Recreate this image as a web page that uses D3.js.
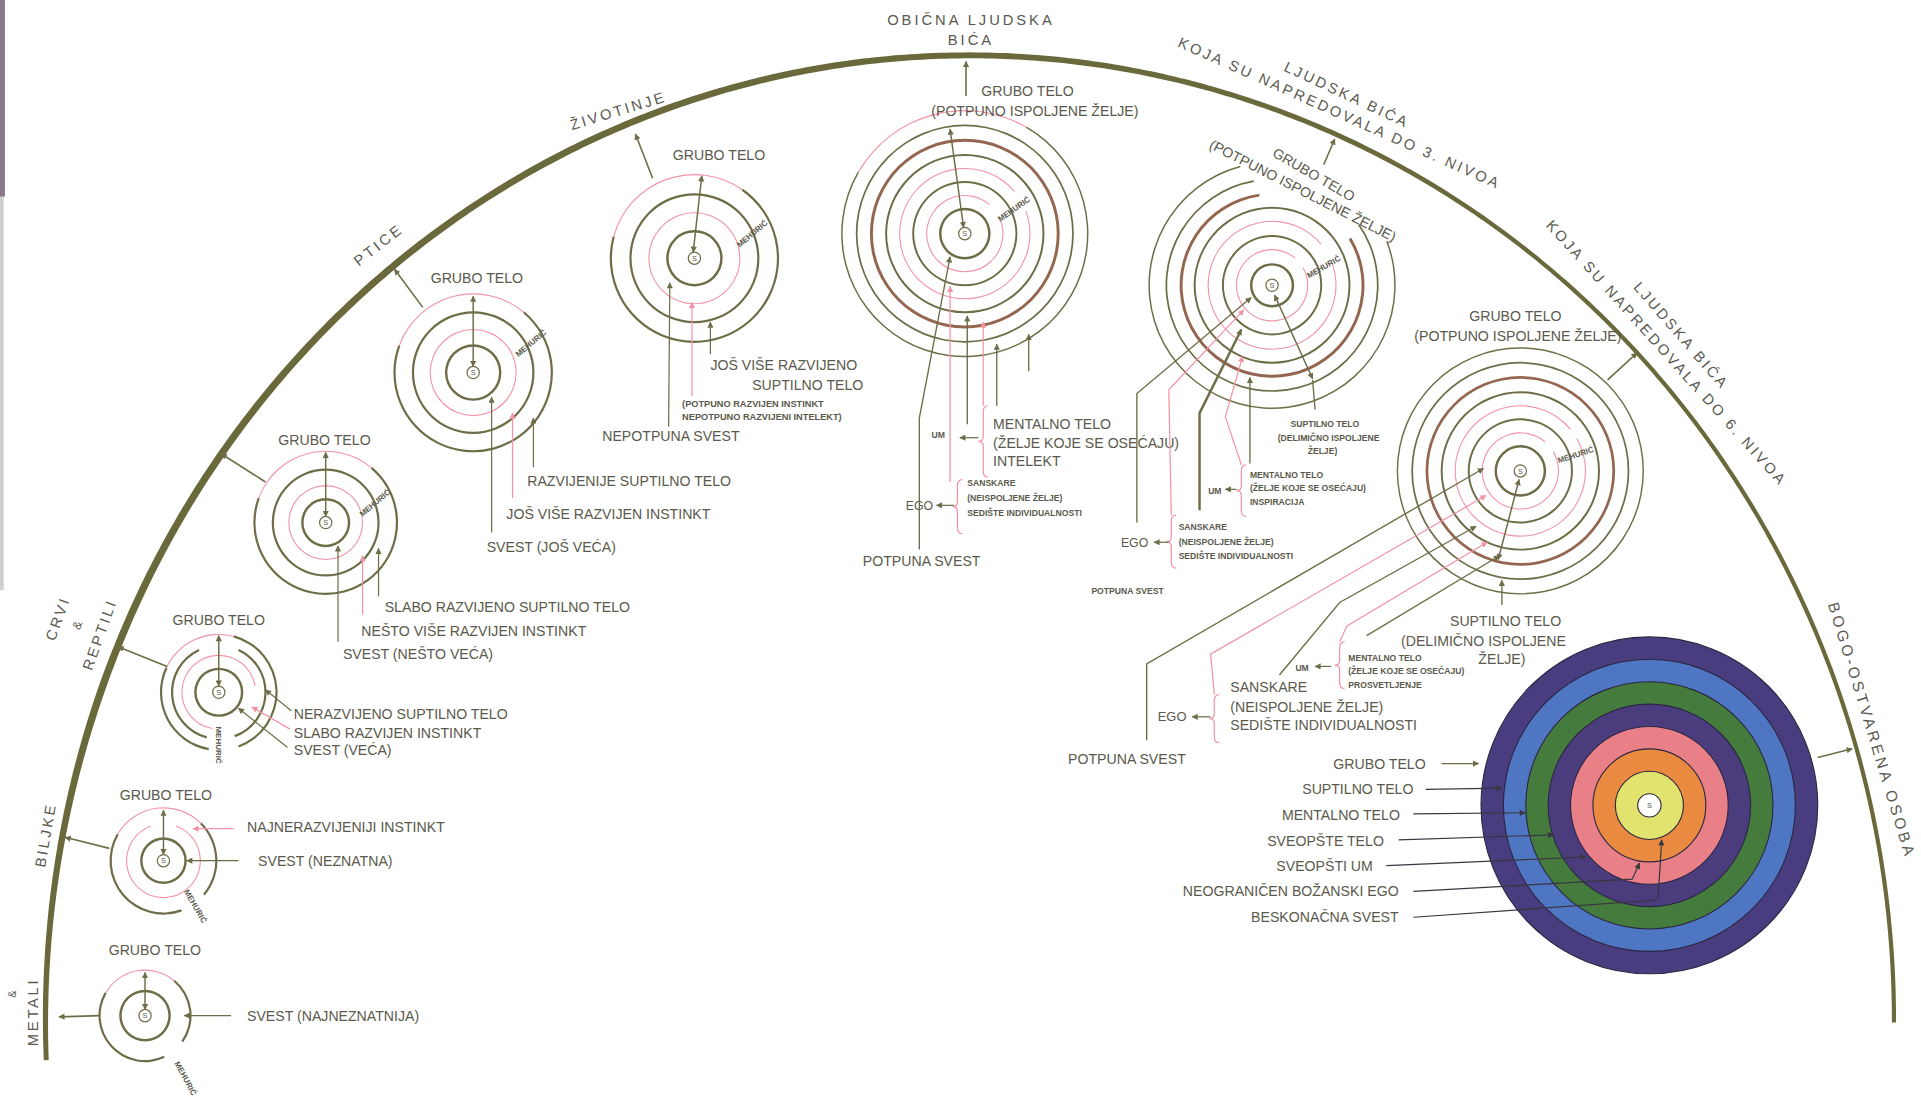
<!DOCTYPE html>
<html>
<head>
<meta charset="utf-8">
<script src="https://cdn.jsdelivr.net/npm/d3@7"></script>
<style>
html, body { margin: 0; padding: 0; background: #fff; overflow: hidden; }
svg { display: block; }
text { font-family: "Liberation Sans", Arial, sans-serif; }
</style>
</head>
<body>
<div id="canvas"></div>
<script>
// ---------- data ----------
const arcTitles = [
  ["&", "METALI"],
  ["BILJKE"],
  ["CRVI", "&", "REPTILI"],
  ["PTICE"],
  ["ŽIVOTINJE"],
  ["OBIČNA LJUDSKA", "BIĆA"],
  ["LJUDSKA BIĆA", "KOJA SU NAPREDOVALA DO 3. NIVOA"],
  ["LJUDSKA BIĆA", "KOJA SU NAPREDOVALA DO 6. NIVOA"],
  ["BOGO-OSTVARENA OSOBA"]
];
const grossBody = ["GRUBO TELO", "(POTPUNO ISPOLJENE ŽELJE)"];
const bubble = "MEHURIĆ";
const soul = "S";
const lowerLabels = [
  ["SVEST (NAJNEZNATNIJA)"],
  ["NAJNERAZVIJENIJI INSTINKT", "SVEST (NEZNATNA)"],
  ["NERAZVIJENO SUPTILNO TELO", "SLABO RAZVIJEN INSTINKT", "SVEST (VEĆA)"],
  ["SLABO RAZVIJENO SUPTILNO TELO", "NEŠTO VIŠE RAZVIJEN INSTINKT", "SVEST (NEŠTO VEĆA)"],
  ["RAZVIJENIJE SUPTILNO TELO", "JOŠ VIŠE RAZVIJEN INSTINKT", "SVEST (JOŠ VEĆA)"],
  ["JOŠ VIŠE RAZVIJENO", "SUPTILNO TELO", "(POTPUNO RAZVIJEN INSTINKT", "NEPOTPUNO RAZVIJENI INTELEKT)", "NEPOTPUNA SVEST"]
];
const subtleBody = ["SUPTILNO TELO", "(DELIMIČNO ISPOLJENE", "ŽELJE)"];
const mentalBody = ["MENTALNO TELO", "(ŽELJE KOJE SE OSEĆAJU)"];
const mindGifts = ["INTELEKT", "INSPIRACIJA", "PROSVETLJENJE"];
const sanskaras = ["SANSKARE", "(NEISPOLJENE ŽELJE)", "SEDIŠTE INDIVIDUALNOSTI"];
const egoMind = ["UM", "EGO", "POTPUNA SVEST"];
const godBodies = ["GRUBO TELO", "SUPTILNO TELO", "MENTALNO TELO", "SVEOPŠTE TELO", "SVEOPŠTI UM", "NEOGRANIČEN BOŽANSKI EGO", "BESKONAČNA SVEST"];

// ---------- styles ----------
const OL = "#6e6d47", PK = "#f293a6", RB = "#94664f", TX = "#5a594b", DK = "#3a3640";
const godFill = ["#4a3d7f", "#4f76c2", "#457c3e", "#4b3c7e", "#e98088", "#ea8a40", "#e2e26e", "#ffffff"];
const FS = 11.5;

const canvas = d3.select("#canvas");
const svg = canvas.append("svg")
  .attr("width", 1921).attr("height", 1098)
  .attr("viewBox", "0 0 1563 893")
  .attr("preserveAspectRatio", "none");

const defs = svg.append("defs");
[["ah", OL], ["ahP", PK], ["ahD", DK]].forEach(([id, col]) => {
  defs.append("marker").attr("id", id)
    .attr("viewBox", "0 0 10 10").attr("refX", 9).attr("refY", 5)
    .attr("markerWidth", 6).attr("markerHeight", 5)
    .attr("markerUnits", "userSpaceOnUse")
    .attr("orient", "auto-start-reverse")
    .append("path").attr("d", "M0,0 L10,5 L0,10 Z").attr("fill", col);
});

// binding strip on the left
svg.append("rect").attr("x", 0).attr("y", 0).attr("width", 4).attr("height", 160).attr("fill", "#8a7788");
svg.append("rect").attr("x", 0).attr("y", 160).attr("width", 3).attr("height", 320).attr("fill", "#cfcfcf");

const g = svg.append("g");

// ---------- helpers ----------
const lineGen = d3.line();
function line(pts, col, w, end, start) {
  const mk = col === PK ? "ahP" : col === DK ? "ahD" : "ah";
  const p = g.append("path").attr("d", lineGen(pts)).attr("fill", "none")
    .attr("stroke", col).attr("stroke-width", w || 1);
  if (end) p.attr("marker-end", `url(#${mk})`);
  if (start) p.attr("marker-start", `url(#${mk})`);
  return p;
}
function txt(x, y, s, o = {}) {
  const t = g.append("text").attr("x", x).attr("y", y).attr("dy", "0.35em")
    .attr("font-size", o.size || FS).attr("fill", o.color || TX)
    .attr("text-anchor", o.anchor || "start").text(s);
  if (o.bold) t.attr("font-weight", "bold");
  if (o.ls) t.attr("letter-spacing", o.ls);
  if (o.rot) t.attr("transform", `rotate(${o.rot},${x},${y})`);
  return t;
}
function brace(x, y0, y1) {
  const ym = (y0 + y1) / 2;
  const p = d3.path();
  p.moveTo(x + 4, y0); p.quadraticCurveTo(x, y0, x, y0 + 5);
  p.lineTo(x, ym - 4); p.quadraticCurveTo(x, ym, x - 4, ym);
  p.quadraticCurveTo(x, ym, x, ym + 4);
  p.lineTo(x, y1 - 5); p.quadraticCurveTo(x, y1, x + 4, y1);
  g.append("path").attr("d", p.toString()).attr("fill", "none").attr("stroke", PK).attr("stroke-width", 1);
}
const ringArc = d3.arc();
const rad = d => d * Math.PI / 180;

// ---------- big arc ----------
const E = { cx: 789, cy: 830, rx: 752, ry: 785 };
const theta = d3.scaleLinear().domain([0, 1]).range([Math.PI + 0.041, -0.002]);
const arcW = d3.scaleLinear().domain([0, 0.12, 0.45, 0.72, 1]).range([4, 6, 5.2, 3.4, 3.4]);
const outer = [], inner = [];
d3.range(0, 1.0001, 0.002).forEach(t => {
  const th = theta(t);
  const x = E.cx + E.rx * Math.cos(th), y = E.cy - E.ry * Math.sin(th);
  let nx = (x - E.cx) / (E.rx * E.rx), ny = (y - E.cy) / (E.ry * E.ry);
  const nl = Math.hypot(nx, ny); nx /= nl; ny /= nl;
  const w = arcW(t) / 2;
  outer.push([x + nx * w, y + ny * w]);
  inner.push([x - nx * w, y - ny * w]);
});
g.append("path").attr("d", lineGen(outer.concat(inner.reverse())) + "Z").attr("fill", "#6a693b");

// ---------- arc titles ----------
const titlePos = [
  [[10, 808, -90, 9, 1], [27, 823, -90, 12, 2.2]],
  [[37, 679, -80, 12, 2.2]],
  [[47, 503, -70, 12, 2.2], [63, 508, -70, 10, 1], [81, 516, -70, 12, 2.2]],
  [[308, 199, -38, 12, 2.4]],
  [[503, 90, -17, 12, 2.2]],
  [[790, 16, 0, 12, 2.4], [790, 32, 0, 12, 2.4]],
  [[1096, 77, 25, 12, 2.2], [1090, 92, 24, 12, 2.2]],
  [[1368, 273, 49, 12, 2.2], [1356, 287, 48, 12, 2.2]],
  [[1523, 594, 73, 12.5, 2.6]]
];
arcTitles.forEach((lines, i) => lines.forEach((s, j) => {
  const [x, y, r, sz, ls] = titlePos[i][j];
  txt(x, y, s, { size: sz, ls: ls, rot: r, anchor: "middle", color: "#5a5950" });
}));

// ---------- small stages ----------
const stageLayout = [
  { c: [118, 826], rings: [[20, OL, 2], [37, OL, 1.8, 40, 125], [37, OL, 1.8, 155, 300], [37, PK, 0.9, 300, 400]],
    dbl: [[118, 821], [118, 791]], toArc: [[81, 826], [48, 827]], gross: [126, 773], meh: [151, 877, 62] },
  { c: [133, 700], rings: [[18, OL, 2], [30, PK, 0.9, 20, 340], [43, OL, 1.8, 45, 130], [43, OL, 1.8, 160, 300], [43, PK, 0.9, 300, 405]],
    dbl: [[133, 695], [133, 659]], toArc: [[89, 690], [53, 681]], gross: [135, 647], meh: [159, 737, 60] },
  { c: [178, 563], rings: [[19, OL, 2], [30, PK, 0.9, 190, 440], [38, OL, 1.8, 25, 160], [38, OL, 1.8, 195, 335], [47, OL, 1.8, 15, 160], [47, OL, 1.8, 190, 295], [47, PK, 0.9, 295, 375]],
    dbl: [[178, 558], [178, 517]], toArc: [[136, 542], [96, 526]], gross: [178, 504], meh: [178, 606, 90] },
  { c: [265, 425], rings: [[19, OL, 2], [30, PK, 0.9], [43, OL, 1.8], [58, OL, 1.8, 40, 290], [58, PK, 0.9, 290, 400]],
    dbl: [[265, 420], [265, 368]], toArc: [[216, 392], [180, 369]], gross: [264, 358], meh: [305, 409, -40] },
  { c: [385, 303], rings: [[22, OL, 2], [35, PK, 0.9], [49, OL, 1.8], [64, OL, 1.8, 40, 290], [64, PK, 0.9, 290, 400]],
    dbl: [[385, 298], [385, 241]], toArc: [[344, 250], [321, 219]], gross: [388, 226], meh: [432, 279, -40] },
  { c: [565, 210], rings: [[22, OL, 2], [37, PK, 0.9], [52, OL, 1.8], [68, OL, 1.8, 35, 285], [68, PK, 0.9, 285, 395]],
    dbl: [[564, 205], [571, 143]], toArc: [[531, 145], [517, 109]], gross: [585, 126], meh: [612, 190, -40] },
  { c: [785, 190], rings: [[20, OL, 2], [31, PK, 0.9, 70, 400], [42, OL, 1.6], [53, PK, 0.9, 70, 410], [64, OL, 1.6], [76, RB, 2.4], [88, OL, 1.4], [100, OL, 1.2, 30, 300], [100, PK, 0.9, 300, 390]],
    dbl: [[784, 185], [773, 105]], toArc: [[786, 78], [786, 50]], meh: [825, 170, -35] },
  { c: [1035, 232], rings: [[17, OL, 2], [29, PK, 0.9, 60, 400], [40, OL, 1.6], [52, PK, 0.9, 70, 410], [63, OL, 1.6], [74, RB, 2.4, 59, 352], [86, OL, 1.4, 55, 350], [100, OL, 1.2, 69, 345]],
    dbl: [[1037, 240], [1068, 308]], toArc: [[1077, 134], [1086, 113]], meh: [1077, 217, -30] },
  { c: [1237, 383], rings: [[20, OL, 2], [31, PK, 0.9, 60, 400], [42, OL, 1.6], [53, PK, 0.9, 60, 410], [64, OL, 1.6], [76, RB, 2.2], [88, OL, 1.4], [100, OL, 1.2]],
    dbl: [[1236, 390], [1219, 455]], toArc: [[1308, 309], [1332, 287]], meh: [1282, 370, -18] }
];

stageLayout.forEach(st => {
  const sg = g.append("g").attr("transform", `translate(${st.c})`);
  sg.selectAll("path").data(st.rings).join("path")
    .attr("d", d => ringArc({ innerRadius: d[0] - d[2] / 2, outerRadius: d[0] + d[2] / 2,
      startAngle: rad(d[3] === undefined ? 0 : d[3]), endAngle: rad(d[4] === undefined ? 360 : d[4]) }))
    .attr("fill", d => d[1]);
  sg.append("circle").attr("r", 5).attr("fill", "#fff").attr("stroke", OL).attr("stroke-width", 1);
  sg.append("text").attr("text-anchor", "middle").attr("dy", "0.35em").attr("font-size", 6).attr("fill", TX).text(soul);
  line(st.dbl, OL, 1.2, true, true);
  line(st.toArc, OL, 1.3, true);
  if (st.gross) txt(st.gross[0], st.gross[1], grossBody[0], { anchor: "middle" });
  txt(st.meh[0], st.meh[1], bubble, { size: 6.5, bold: true, anchor: "middle", rot: st.meh[2] });
});

// stage callouts 1..6
const calloutPos = [
  [[201, 826, [[188, 826], [150, 826]], OL]],
  [[201, 673, [[190, 674], [157, 674]], PK], [210, 700, [[194, 700], [152, 700]], OL]],
  [[239, 581, [[237, 578], [216, 561]], OL], [239, 596, [[236, 593], [205, 575]], PK], [239, 610, [[234, 608], [194, 576]], OL]],
  [[313, 494, [[308, 485], [308, 446]], OL], [294, 513, [[295, 500], [295, 452]], PK], [279, 532, [[275, 522], [275, 444]], OL]],
  [[429, 391, [[434, 380], [434, 340]], OL], [412, 418, [[417, 405], [417, 336]], PK], [396, 445, [[400, 433], [400, 323]], OL]],
  [[578, 297, [[578, 288], [578, 262]], OL], [612, 313, null], [555, 328, null, null, 7.5], [555, 339, [[563, 322], [563, 246]], PK, 7.5], [490, 355, [[544, 347], [545, 230]], OL]]
];
lowerLabels.forEach((labels, i) => labels.forEach((s, j) => {
  const [x, y, pts, col, small] = calloutPos[i][j];
  txt(x, y, s, small ? { size: small, bold: true } : {});
  if (pts) line(pts, col, 1, true);
}));

// stage 7: ordinary human beings
txt(836, 74, grossBody[0], { anchor: "middle" });
txt(842, 90, grossBody[1], { anchor: "middle" });
txt(808, 345, mentalBody[0]);
txt(808, 360, mentalBody[1]);
txt(808, 375, mindGifts[0]);
txt(787, 393, sanskaras[0], { size: 7, bold: true });
txt(787, 405, sanskaras[1], { size: 7, bold: true });
txt(787, 417, sanskaras[2], { size: 7, bold: true });
txt(758, 354, egoMind[0], { size: 7, bold: true });
txt(737, 411, egoMind[1], { size: 10 });
txt(702, 456, egoMind[2]);
brace(800, 330, 388);
brace(779, 390, 434);
line([[796, 356], [781, 356]], OL, 1, true);
line([[776, 411], [762, 411]], OL, 1, true);
line([[748, 447], [748, 340], [773, 209]], OL, 1.1, true);
line([[773, 392], [773, 233]], PK, 1, true);
line([[787, 345], [787, 257]], OL, 1.1, true);
line([[800, 330], [800, 262]], PK, 1, true);
line([[811, 330], [811, 280]], OL, 1.1, true);
line([[837, 302], [837, 272]], OL, 1.1, true);

// stage 8: up to the 3rd plane
txt(1069, 142, grossBody[0], { rot: 30, anchor: "middle" });
txt(1060, 155, grossBody[1], { rot: 27, anchor: "middle" });
txt(1078, 345, subtleBody[0], { size: 7, bold: true, anchor: "middle" });
txt(1081, 356, subtleBody[1], { size: 7, bold: true, anchor: "middle" });
txt(1076, 367, subtleBody[2], { size: 7, bold: true, anchor: "middle" });
txt(1017, 386, mentalBody[0], { size: 7, bold: true });
txt(1017, 397, mentalBody[1], { size: 7, bold: true });
txt(1017, 408, mindGifts[1], { size: 7, bold: true });
txt(983, 399, egoMind[0], { size: 7, bold: true });
txt(959, 429, sanskaras[0], { size: 7, bold: true });
txt(959, 441, sanskaras[1], { size: 7, bold: true });
txt(959, 452, sanskaras[2], { size: 7, bold: true });
txt(912, 441, egoMind[1], { size: 10 });
txt(888, 481, egoMind[2], { size: 7, bold: true });
brace(1010, 378, 420);
brace(953, 419, 462);
line([[1006, 398], [997, 398]], OL, 1, true);
line([[951, 441], [939, 441]], OL, 1, true);
line([[925, 425], [925, 320], [1018, 242]], OL, 1.1, true);
line([[953, 419], [951, 317], [1012, 252]], PK, 1, true);
line([[976, 415], [976, 336], [1010, 268]], OL, 2, true);
line([[1010, 378], [997, 339], [1011, 290]], PK, 1, true);
line([[1017, 377], [1017, 307]], OL, 1.1, true);
line([[1070, 333], [1068, 309]], OL, 1.1);

// stage 9: up to the 6th plane
txt(1233, 257, grossBody[0], { anchor: "middle" });
txt(1235, 273, grossBody[1], { anchor: "middle" });
txt(1225, 505, subtleBody[0], { anchor: "middle" });
txt(1207, 521, subtleBody[1], { anchor: "middle" });
txt(1222, 536, subtleBody[2], { anchor: "middle" });
txt(1097, 535, mentalBody[0], { size: 7, bold: true });
txt(1097, 546, mentalBody[1], { size: 7, bold: true });
txt(1097, 557, mindGifts[2], { size: 7, bold: true });
txt(1054, 543, egoMind[0], { size: 7, bold: true });
txt(1001, 559, sanskaras[0]);
txt(1001, 575, sanskaras[1]);
txt(1001, 590, sanskaras[2]);
txt(942, 583, egoMind[1], { size: 10.5 });
txt(869, 617, egoMind[2]);
brace(1090, 522, 560);
brace(988, 565, 604);
line([[1083, 542], [1070, 542]], OL, 1, true);
line([[985, 583], [970, 583]], OL, 1, true);
line([[933, 602], [933, 540], [1207, 381]], OL, 1.1, true);
line([[988, 565], [985, 532], [1209, 403]], PK, 1, true);
line([[1041, 549], [1090, 490], [1201, 428]], OL, 1.1, true);
line([[1090, 522], [1096, 509], [1210, 441]], PK, 1, true);
line([[1112, 517], [1220, 452]], OL, 1.1, true);
line([[1222, 492], [1222, 472]], OL, 1.1, true);

// ---------- God-realised being ----------
const godC = [1342, 655];
const godR = d3.scaleLinear().domain([0, 7]).range([137, 9.5]);
const gg = g.append("g").attr("transform", `translate(${godC})`);
gg.selectAll("circle").data(godFill).join("circle")
  .attr("r", (d, i) => godR(i))
  .attr("fill", d => d)
  .attr("stroke", "#2b2640").attr("stroke-width", 0.9);
gg.append("text").attr("text-anchor", "middle").attr("dy", "0.35em").attr("font-size", 6).attr("fill", TX).text(soul);

const godLabelPos = [
  [1160, 621, [[1173, 621], [1203, 621]]],
  [1150, 642, [[1160, 642], [1222, 641]]],
  [1139, 663, [[1150, 662], [1241, 661]]],
  [1126, 684, [[1138, 683], [1264, 679]]],
  [1117, 704, [[1128, 704], [1290, 697]]],
  [1138, 725, [[1150, 725], [1328, 715], [1334, 702]]],
  [1138, 746, [[1150, 746], [1349, 732], [1352, 683]]]
];
godBodies.forEach((s, i) => {
  const [x, y, pts] = godLabelPos[i];
  txt(x, y, s, { anchor: "end" });
  line(pts, i === 0 ? OL : DK, 1, true);
});
line([[1479, 616], [1507, 609]], OL, 1.2, true);
</script>
</body>
</html>
